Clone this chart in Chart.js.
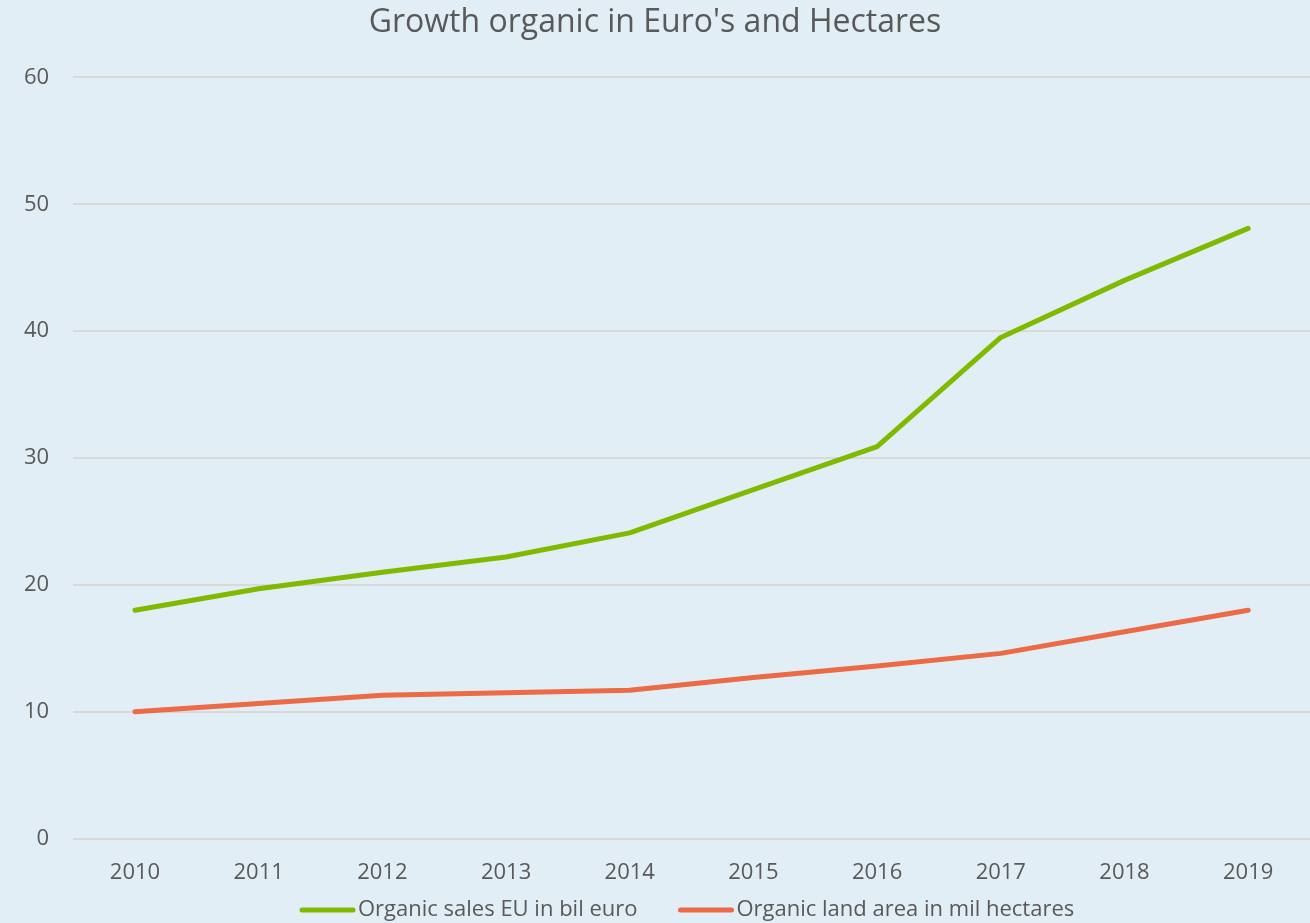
<!DOCTYPE html>
<html>
<head>
<meta charset="utf-8">
<script src="https://cdn.jsdelivr.net/npm/chart.js@4.4.1/dist/chart.umd.min.js"></script>
<style>
  html, body { margin: 0; padding: 0; background: #e2eef5; }
  #wrap { width: 1310px; height: 923px; }
</style>
</head>
<body>
<div id="wrap"><canvas id="lineChart"></canvas></div>
<script>
let years = ['2010', '2011', '2012', '2013', '2014', '2015', '2016', '2017', '2018', '2019'];
let salesEuro = [18.0, 19.7, 21.0, 22.2, 24.1, 27.5, 30.9, 39.5, 44.0, 48.1];
let landHectares = [10.0, 10.65, 11.3, 11.5, 11.7, 12.7, 13.6, 14.6, 16.3, 18.0];
let yTicks = [0, 10, 20, 30, 40, 50, 60];

let textColor = '#595959';
let fontName = "'Open Sans', 'Lato', sans-serif";

// excel style legend: short thick line, text right after it, wide gap between items
let bottomLegend = {
    id: 'bottomLegend',
    afterDraw(chart) {
        let c = chart.ctx;
        let y = 910;
        let x = 300;
        c.save();
        c.font = '22px ' + fontName;
        c.textBaseline = 'middle';
        c.textAlign = 'left';
        chart.data.datasets.forEach((ds) => {
            c.strokeStyle = ds.borderColor;
            c.lineWidth = 5;
            c.lineCap = 'round';
            c.beginPath();
            c.moveTo(x + 2, y);
            c.lineTo(x + 53, y);
            c.stroke();
            c.fillStyle = textColor;
            c.fillText(ds.label, x + 58, y);
            x += 58 + c.measureText(ds.label).width + 41;
        });
        c.restore();
    }
};

let ctx = document.getElementById('lineChart').getContext('2d');

let myChart = new Chart(ctx, {
    type: 'line',
    data: {
        labels: years,
        datasets: [{
            label: 'Organic sales EU in bil euro',
            data: salesEuro,
            borderColor: '#7fba00',
            backgroundColor: '#7fba00',
            borderWidth: 5,
            pointRadius: 0,
            borderCapStyle: 'round',
            borderJoinStyle: 'round',
            tension: 0
        }, {
            label: 'Organic land area in mil hectares',
            data: landHectares,
            borderColor: '#ec6a45',
            backgroundColor: '#ec6a45',
            borderWidth: 5,
            pointRadius: 0,
            borderCapStyle: 'round',
            borderJoinStyle: 'round',
            tension: 0
        }]
    },
    plugins: [bottomLegend],
    options: {
        responsive: true,
        maintainAspectRatio: false,
        animation: false,
        layout: { padding: { left: 0, right: 0, top: 0, bottom: 16 } },
        plugins: {
            title: {
                display: true,
                text: "Growth organic in Euro's and Hectares",
                color: textColor,
                font: { family: fontName, size: 32, weight: 'normal' },
                padding: { top: 4, bottom: 35 }
            },
            legend: { display: false },
            tooltip: { enabled: false }
        },
        scales: {
            x: {
                offset: true,
                grid: { display: false, drawTicks: false, offset: true },
                border: { display: false },
                ticks: {
                    color: textColor,
                    font: { family: fontName, size: 22 },
                    padding: 21
                }
            },
            y: {
                min: 0,
                max: 60,
                afterBuildTicks: (axis) => { axis.ticks = yTicks.map(v => ({ value: v })); },
                grid: { color: '#d9d9d9', lineWidth: 2, drawTicks: false },
                border: { display: false },
                ticks: {
                    color: textColor,
                    font: { family: fontName, size: 22 },
                    padding: 24
                }
            }
        }
    }
});
</script>
</body>
</html>
